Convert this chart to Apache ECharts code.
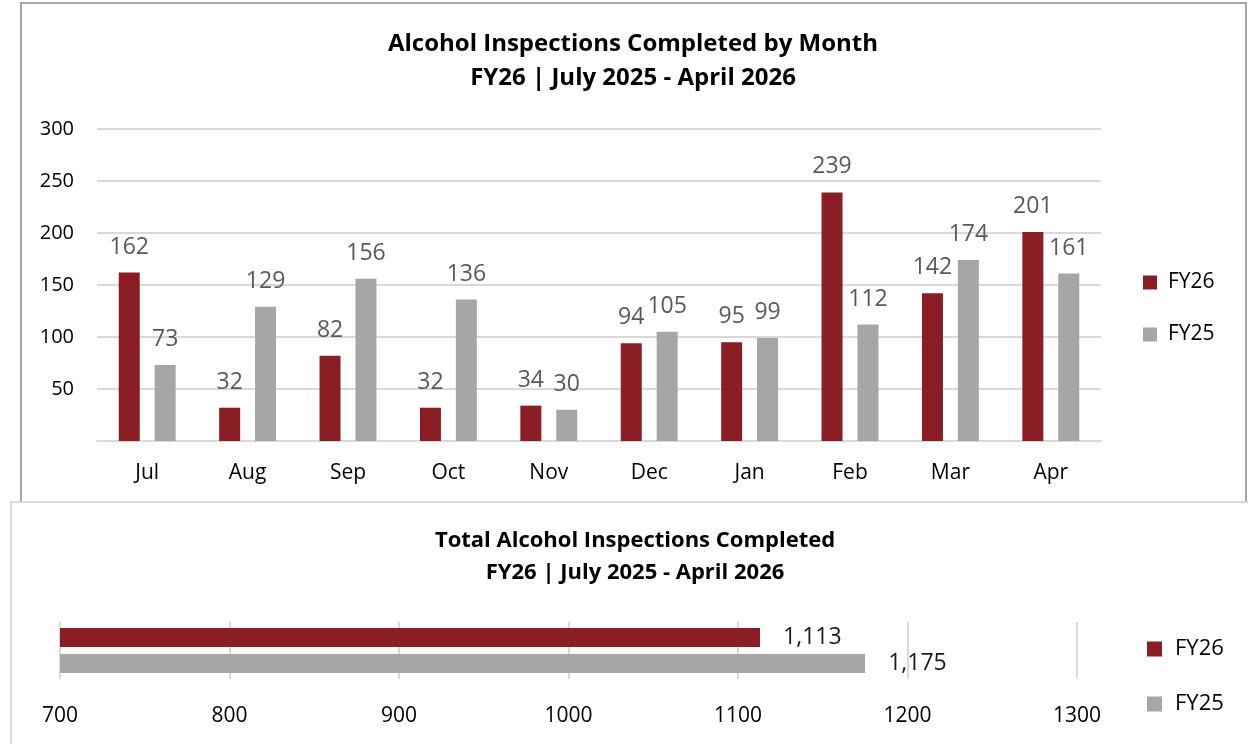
<!DOCTYPE html>
<html lang="en">
<head>
    <meta charset="UTF-8">
    <title>Alcohol Inspections Completed</title>
    <script src="https://cdn.jsdelivr.net/npm/echarts@6/dist/echarts.min.js"></script>
    <style>
        body { margin: 0; background: #fff; }
        #chart { width: 1248px; height: 744px; }
    </style>
</head>
<body>
    <div id="chart"></div>

    <script>
        // monthly data
        const months = ['Jul', 'Aug', 'Sep', 'Oct', 'Nov', 'Dec', 'Jan', 'Feb', 'Mar', 'Apr'];
        const fy26Monthly = [162, 32, 82, 32, 34, 94, 95, 239, 142, 201];
        const fy25Monthly = [73, 129, 156, 136, 30, 105, 99, 112, 174, 161];

        // totals
        const totalCategory = ['Total'];
        const fy26Total = [1113];
        const fy25Total = [1175];

        const RED = '#8b1e24';
        const GRAY = '#a6a6a6';
        const FONT = '"Open Sans", "Liberation Sans", sans-serif';

        let chart = echarts.init(document.getElementById('chart'));

        let option = {
            animation: false,
            textStyle: { fontFamily: FONT },
            graphic: [
                // chart frames
                { type: 'rect', shape: { x: 21, y: 3, width: 1225, height: 499 },
                  style: { fill: 'none', stroke: '#a6a6a6', lineWidth: 2 }, z: 0 },
                { type: 'rect', shape: { x: 11, y: 502, width: 1250, height: 260 },
                  style: { fill: '#fff', stroke: '#d9d9d9', lineWidth: 2 }, z: 0 },
                { type: 'text', x: 633, y: 27, z: 10,
                  style: { text: 'Alcohol Inspections Completed by Month\nFY26 | July 2025 - April 2026',
                           align: 'center', verticalAlign: 'top', lineHeight: 34,
                           font: 'bold 24px ' + FONT, fill: '#000' } },
                { type: 'text', x: 635, y: 525, z: 10,
                  style: { text: 'Total Alcohol Inspections Completed\nFY26 | July 2025 - April 2026',
                           align: 'center', verticalAlign: 'top', lineHeight: 32,
                           font: 'bold 22px ' + FONT, fill: '#000' } }
            ],
            legend: [
                {
                    data: ['FY26', 'FY25'],
                    orient: 'vertical',
                    left: 1143, top: 272,
                    padding: 0,
                    itemWidth: 14, itemHeight: 14, itemGap: 31,
                    icon: 'rect',
                    textStyle: { fontSize: 21, color: '#000', fontFamily: FONT, padding: [0, 0, 0, 6] }
                },
                {
                    data: ['FY26 ', 'FY25 '],
                    orient: 'vertical',
                    left: 1147, top: 638,
                    padding: 0,
                    itemWidth: 15, itemHeight: 15, itemGap: 33,
                    icon: 'rect',
                    formatter: n => n.trim(),
                    textStyle: { fontSize: 22, color: '#000', fontFamily: FONT, padding: [0, 0, 0, 8] }
                }
            ],
            grid: [
                { left: 97, right: 147, top: 129, bottom: 303 },
                { left: 60, right: 171, top: 622, bottom: 65 }
            ],
            xAxis: [
                {
                    gridIndex: 0,
                    type: 'category',
                    data: months,
                    axisLine: { lineStyle: { color: '#d9d9d9', width: 2 } },
                    axisTick: { show: false },
                    axisLabel: { fontSize: 21, color: '#000', margin: 22 }
                },
                {
                    gridIndex: 1,
                    type: 'value',
                    min: 700, max: 1300, interval: 100,
                    axisLine: { show: false },
                    axisTick: { show: false },
                    splitLine: { lineStyle: { color: '#d9d9d9', width: 2 } },
                    axisLabel: { fontSize: 21, color: '#000', margin: 27, formatter: v => String(v) }
                }
            ],
            yAxis: [
                {
                    gridIndex: 0,
                    type: 'value',
                    min: 0, max: 300, interval: 50,
                    axisLine: { show: false },
                    axisTick: { show: false },
                    splitLine: { lineStyle: { color: '#d9d9d9', width: 2 } },
                    axisLabel: {
                        fontSize: 20, color: '#000', margin: 23,
                        formatter: v => v === 0 ? '' : v
                    }
                },
                {
                    gridIndex: 1,
                    type: 'category',
                    data: totalCategory,
                    show: false
                }
            ],
            series: [
                {
                    name: 'FY26', type: 'bar',
                    xAxisIndex: 0, yAxisIndex: 0,
                    data: fy26Monthly,
                    barWidth: 21, barGap: '71%',
                    itemStyle: { color: RED },
                    label: { show: true, position: 'top', distance: 14, fontSize: 23, color: '#595959' }
                },
                {
                    name: 'FY25', type: 'bar',
                    xAxisIndex: 0, yAxisIndex: 0,
                    data: fy25Monthly,
                    barWidth: 21, barGap: '71%',
                    itemStyle: { color: GRAY },
                    label: { show: true, position: 'top', distance: 14, fontSize: 23, color: '#595959' }
                },
                {
                    name: 'FY26 ', type: 'bar',
                    xAxisIndex: 1, yAxisIndex: 1,
                    data: fy26Total,
                    barWidth: 19, barGap: '37%',
                    itemStyle: { color: RED },
                    label: { show: true, position: 'right', distance: 23, fontSize: 23, color: '#1a1a1a',
                             formatter: p => p.value.toLocaleString('en-US') }
                },
                {
                    name: 'FY25 ', type: 'bar',
                    xAxisIndex: 1, yAxisIndex: 1,
                    data: fy25Total,
                    barWidth: 19, barGap: '37%',
                    itemStyle: { color: GRAY },
                    label: { show: true, position: 'right', distance: 23, fontSize: 23, color: '#1a1a1a',
                             formatter: p => p.value.toLocaleString('en-US') }
                }
            ]
        };

        chart.setOption(option);
    </script>
</body>
</html>
